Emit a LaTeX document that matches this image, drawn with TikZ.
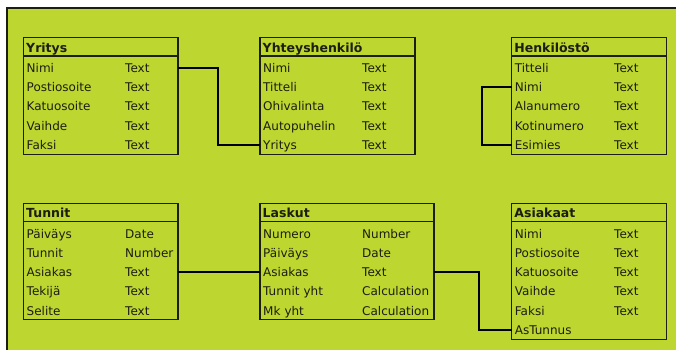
\documentclass[tikz,border=0pt]{standalone}
\usepackage{fontspec}
\setmainfont{DejaVu Sans}
\usetikzlibrary{positioning}
\definecolor{limebg}{RGB}{190,214,48}
\definecolor{inkdark}{RGB}{28,30,18}
\tikzset{
  tbl/.style={draw=inkdark, line width=1.2pt},
  fld/.style={anchor=west, inner sep=0pt, text height=8.8pt, text depth=0pt,
    font=\fontsize{12}{14}\selectfont, text=inkdark},
  fname/.style={fld, inner xsep=3pt, align=left},
  hdr/.style={fld, inner xsep=2.5pt, font=\fontsize{12.5}{14}\selectfont\bfseries},
  link/.style={draw=black, line width=2pt}
}
% table: id, x, top, width, type offset, rows, title, fields
\newcommand{\dbtable}[8]{%
  \node[hdr] (#1) at (#2, #3+10) {#7};
  \foreach \fn/\ft [count=\i] in {#8} {
    \node[fname, text width=#4pt-6pt] (#1-\i) at (#2, #3+30.3+\i*19.25-19.25) {\fn};
    \node[fld] (#1-\i-t) at (#2+#5, #3+30.3+\i*19.25-19.25) {\ft};
  }
  \draw[tbl] (#2, #3) rectangle (#2+#4, #3+20.3+#6*19.25);
  \draw[tbl] (#2, #3+18.3) -- (#2+#4, #3+18.3);
}
\begin{document}
\begin{tikzpicture}[x=1pt, y=-1pt]
  \useasboundingbox (0,0) rectangle (676,350);
  \fill[white] (0,0) rectangle (676,350);
  \fill[limebg] (7,8) rectangle (676,350);
  \draw[inkdark, line width=1.5pt] (7,350) -- (7,8) -- (676,8);

  \dbtable{yritys}{23.5}{37.7}{154.5}{101.5}{5}{Yritys}
    {Nimi/Text, Postiosoite/Text, Katuosoite/Text, Vaihde/Text, Faksi/Text}
  \dbtable{yhteys}{260}{37.7}{155}{102}{5}{Yhteyshenkilö}
    {Nimi/Text, Titteli/Text, Ohivalinta/Text, Autopuhelin/Text, Yritys/Text}
  \dbtable{henk}{511.7}{37.7}{155}{102.3}{5}{Henkilöstö}
    {Titteli/Text, Nimi/Text, Alanumero/Text, Kotinumero/Text, Esimies/Text}
  \dbtable{tunnit}{23.5}{203.3}{154.5}{101.5}{5}{Tunnit}
    {Päiväys/Date, Tunnit/Number, Asiakas/Text, Tekijä/Text, Selite/Text}
  \dbtable{laskut}{260}{203.3}{174}{102}{5}{Laskut}
    {Numero/Number, Päiväys/Date, Asiakas/Text, Tunnit yht/Calculation, Mk yht/Calculation}
  \dbtable{asiak}{511.7}{203.3}{155}{102.3}{6}{Asiakaat}
    {Nimi/Text, Postiosoite/Text, Katuosoite/Text, Vaihde/Text, Faksi/Text, AsTunnus/{}}

  % relations
  \draw[link] (yritys-1.east) -- ++(40,0) |- (yhteys-5.west);
  \draw[link] (henk-2.west) -- ++(-29.5,0) |- (henk-5.west);
  \draw[link] (tunnit-3.east) -- (laskut-3.west);
  \draw[link] (laskut-3.east) -- ++(44.5,0) |- (asiak-6.west);
\end{tikzpicture}
\end{document}
